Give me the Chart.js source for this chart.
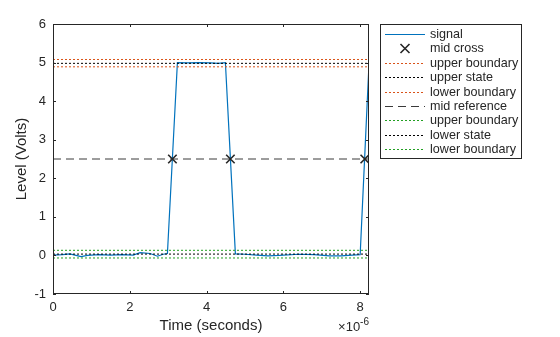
<!DOCTYPE html>
<html>
<head>
<meta charset="utf-8">
<script src="https://cdn.jsdelivr.net/npm/chart.js@4/dist/chart.umd.min.js"></script>
<style>
  html, body { margin: 0; padding: 0; background: #fff; }
  #wrap { width: 560px; height: 337px; }
</style>
</head>
<body>
<div id="wrap"><canvas id="mid-chart"></canvas></div>
<script>
// time in microseconds (axis shows x10^-6 s), level in volts
const timeUs = [0, 0.25, 0.44, 0.73, 0.9, 1.2, 1.5, 1.8, 2.09, 2.27, 2.53, 2.72, 2.87, 2.98,
  3.24, 3.5, 3.8, 4.1, 4.3, 4.49,
  4.75, 5.0, 5.3, 5.6, 5.9, 6.4, 6.8, 7.2, 7.5, 7.8, 8.0, 8.23];
const levels = [0.01, 0.02, 0.04, -0.03, 0.0, 0.02, 0.01, 0.02, 0.01, 0.07, 0.05, -0.02, 0.03, 0.05,
  5.0, 4.99, 5.0, 4.99, 4.98, 5.0,
  0.04, 0.03, 0.01, -0.01, 0.0, 0.03, 0.02, -0.01, -0.01, 0.01, 0.02, 4.97];

const crossTimes = [3.11, 4.62, 8.12];
const midRef = 2.5;

const upperState = 4.98;
const upperBounds = [5.08, 4.89];
const lowerState = 0.035;
const lowerBounds = [0.133, -0.066];

const xMax = 8.23;
const xTicks = [0, 2, 4, 6, 8];
const yTicks = [-1, 0, 1, 2, 3, 4, 5, 6];

const ink = "#262626";
const blue = "#0072BD";
const orange = "#D95319";
const green = "#22A022";
const dotted = [2, 2];

const hline = (y) => [{ x: 0, y: y }, { x: xMax, y: y }];

const lineSet = (label, y, color, dash, order) => ({
  label: label,
  data: hline(y),
  borderColor: color,
  borderWidth: 1,
  borderDash: dash,
  pointRadius: 0,
  order: order,
});

const datasets = [
  {
    label: "signal",
    data: timeUs.map((t, i) => ({ x: t, y: levels[i] })),
    borderColor: blue,
    borderWidth: 1.2,
    pointRadius: 0,
    order: 10,
  },
  {
    label: "mid cross",
    data: crossTimes.map((t) => ({ x: t, y: midRef })),
    showLine: false,
    pointStyle: "crossRot",
    pointRadius: 6,
    pointBorderWidth: 1.6,
    borderColor: ink,
    order: 1,
  },
  lineSet("upper boundary", upperBounds[0], orange, dotted, 8),
  lineSet("upper state", upperState, "#000", dotted, 7),
  lineSet("lower boundary", upperBounds[1], orange, dotted, 6),
  lineSet("mid reference", midRef, "#3a3a3a", [8, 5], 5),
  lineSet("upper boundary", lowerBounds[0], green, dotted, 4),
  lineSet("lower state", lowerState, "#000", dotted, 3),
  lineSet("lower boundary", lowerBounds[1], green, dotted, 2),
];

// axes box with inward ticks, x10^-6 note and the legend box
const matlabLook = {
  id: "matlabLook",
  afterDraw(chart) {
    const { ctx, chartArea: a, scales } = chart;
    ctx.save();
    ctx.strokeStyle = ink;
    ctx.lineWidth = 1;
    ctx.setLineDash([]);
    ctx.strokeRect(a.left + 0.5, a.top + 0.5, a.right - a.left - 1, a.bottom - a.top - 1);
    ctx.beginPath();
    xTicks.forEach((v) => {
      const px = Math.round(scales.x.getPixelForValue(v)) + 0.5;
      ctx.moveTo(px, a.bottom); ctx.lineTo(px, a.bottom - 3);
      ctx.moveTo(px, a.top); ctx.lineTo(px, a.top + 3);
    });
    yTicks.forEach((v) => {
      const py = Math.round(scales.y.getPixelForValue(v)) + 0.5;
      ctx.moveTo(a.left, py); ctx.lineTo(a.left + 3, py);
      ctx.moveTo(a.right, py); ctx.lineTo(a.right - 3, py);
    });
    ctx.stroke();

    // exponent note
    ctx.fillStyle = ink;
    ctx.textBaseline = "alphabetic";
    ctx.textAlign = "left";
    ctx.font = "13px 'Liberation Sans', Arial, sans-serif";
    const base = "\u00d710";
    const bw = ctx.measureText(base).width;
    ctx.font = "10px 'Liberation Sans', Arial, sans-serif";
    const sup = "-6";
    const sw = ctx.measureText(sup).width;
    const x0 = a.right - bw - sw;
    ctx.font = "13px 'Liberation Sans', Arial, sans-serif";
    ctx.fillText(base, x0, 331);
    ctx.font = "10px 'Liberation Sans', Arial, sans-serif";
    ctx.fillText(sup, x0 + bw, 325);

    // legend
    const lx = 380.5, ly = 24.5, lw = 141, lh = 134;
    ctx.fillStyle = "#fff";
    ctx.fillRect(lx, ly, lw, lh);
    ctx.strokeStyle = ink;
    ctx.strokeRect(lx, ly, lw, lh);
    ctx.font = "12.6px 'Liberation Sans', Arial, sans-serif";
    ctx.textBaseline = "middle";
    chart.data.datasets.forEach((ds, i) => {
      const y = Math.round(34 + i * 14.4) + 0.5;
      if (ds.showLine === false) {
        const cx = 405, r = 4.5;
        ctx.setLineDash([]);
        ctx.lineWidth = 1.6;
        ctx.strokeStyle = ds.borderColor;
        ctx.beginPath();
        ctx.moveTo(cx - r, y - r); ctx.lineTo(cx + r, y + r);
        ctx.moveTo(cx - r, y + r); ctx.lineTo(cx + r, y - r);
        ctx.stroke();
      } else {
        ctx.setLineDash(ds.borderDash || []);
        ctx.lineWidth = ds.borderWidth;
        ctx.strokeStyle = ds.borderColor;
        ctx.beginPath();
        ctx.moveTo(385, y); ctx.lineTo(425, y);
        ctx.stroke();
      }
      ctx.setLineDash([]);
      ctx.fillStyle = ink;
      ctx.fillText(ds.label, 430, y);
    });
    ctx.restore();
  },
};

const ctx = document.getElementById("mid-chart");
const chart = new Chart(ctx, {
  type: "line",
  data: { datasets: datasets },
  options: {
    responsive: true,
    maintainAspectRatio: false,
    animation: false,
    layout: { padding: { left: 0, right: 191, top: 24, bottom: 0 } },
    plugins: { legend: { display: false }, tooltip: { enabled: false } },
    scales: {
      x: {
        type: "linear",
        min: 0,
        max: xMax,
        afterFit: (s) => { s.height = 43; },
        afterBuildTicks: (s) => { s.ticks = xTicks.map((v) => ({ value: v })); },
        grid: { display: false, drawTicks: false },
        border: { display: false },
        ticks: {
          padding: 6,
          color: ink,
          maxRotation: 0,
          font: { family: "'Liberation Sans', Arial, sans-serif", size: 13 },
        },
        title: {
          display: true,
          text: "Time (seconds)",
          color: ink,
          padding: { top: 0, bottom: 2 },
          font: { family: "'Liberation Sans', Arial, sans-serif", size: 15 },
        },
      },
      y: {
        min: -1,
        max: 6,
        afterFit: (s) => { s.width = 53; },
        afterBuildTicks: (s) => { s.ticks = yTicks.map((v) => ({ value: v })); },
        grid: { display: false, drawTicks: false },
        border: { display: false },
        ticks: {
          padding: 7,
          color: ink,
          font: { family: "'Liberation Sans', Arial, sans-serif", size: 13 },
        },
        title: {
          display: true,
          text: "Level (Volts)",
          color: ink,
          padding: { top: 13, bottom: 0 },
          font: { family: "'Liberation Sans', Arial, sans-serif", size: 15 },
        },
      },
    },
  },
  plugins: [matlabLook],
});
</script>
</body>
</html>
